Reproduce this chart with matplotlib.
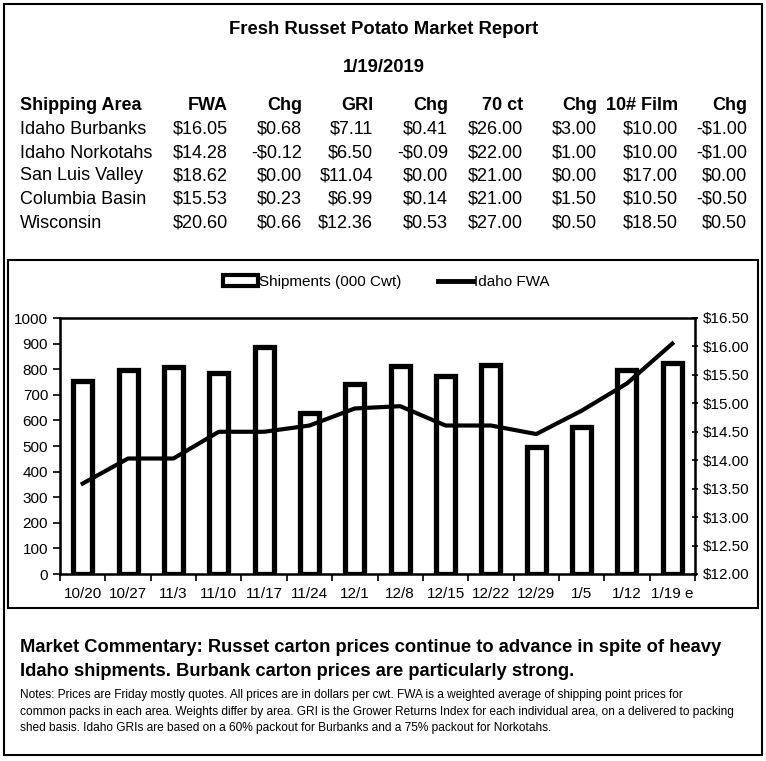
import matplotlib.pyplot as plt
from matplotlib.patches import Rectangle, Patch
from matplotlib.lines import Line2D
import numpy as np

plt.rcParams['font.family'] = ['Liberation Sans', 'DejaVu Sans']

# table data
areas = ['Idaho Burbanks', 'Idaho Norkotahs', 'San Luis Valley', 'Columbia Basin', 'Wisconsin']
fwa = [16.05, 14.28, 18.62, 15.53, 20.60]
fwa_chg = [0.68, -0.12, 0.00, 0.23, 0.66]
gri = [7.11, 6.50, 11.04, 6.99, 12.36]
gri_chg = [0.41, -0.09, 0.00, 0.14, 0.53]
ct70 = [26.00, 22.00, 21.00, 21.00, 27.00]
ct70_chg = [3.00, 1.00, 0.00, 1.50, 0.50]
film = [10.00, 10.00, 17.00, 10.50, 18.50]
film_chg = [-1.00, -1.00, 0.00, -0.50, 0.50]
headers = ['FWA', 'Chg', 'GRI', 'Chg', '70 ct', 'Chg', '10# Film', 'Chg']

# chart data
weeks = ['10/20', '10/27', '11/3', '11/10', '11/17', '11/24', '12/1', '12/8',
         '12/15', '12/22', '12/29', '1/5', '1/12', '1/19 e']
shipments = [755, 797, 807, 786, 886, 630, 742, 812, 775, 815, 497, 575, 797, 823]
idaho_fwa = [13.59, 14.03, 14.03, 14.50, 14.50, 14.61, 14.91, 14.95, 14.61, 14.61,
             14.46, 14.87, 15.35, 16.05]

W, H = 766, 761
fig = plt.figure(figsize=(W / 100, H / 100), dpi=100)


def fx(x):
    return x / W


def fy(y):
    return 1 - y / H


def money(v):
    if v < 0:
        return '-$%.2f' % abs(v)
    return '$%.2f' % v


# borders
fig.patches.append(Rectangle((fx(4), fy(755)), fx(758), 751 / H, transform=fig.transFigure,
                             fill=False, lw=1.5, ec='black'))
fig.patches.append(Rectangle((fx(8), fy(608)), fx(750), 348 / H, transform=fig.transFigure,
                             fill=False, lw=1.5, ec='black'))

fig.text(fx(384), fy(30), 'Fresh Russet Potato Market Report', ha='center', va='center',
         fontsize=13.3, fontweight='bold')
fig.text(fx(384), fy(67), '1/19/2019', ha='center', va='center', fontsize=13.3, fontweight='bold')

col_x = [228, 302, 373, 448, 523, 597, 678, 747]
row_y = [129, 153, 176, 199, 223]
fig.text(fx(20), fy(105), 'Shipping Area', ha='left', va='center', fontsize=13, fontweight='bold')
for cx, h in zip(col_x, headers):
    fig.text(fx(cx), fy(105), h, ha='right', va='center', fontsize=13, fontweight='bold')
cols = [fwa, fwa_chg, gri, gri_chg, ct70, ct70_chg, film, film_chg]
for i, area in enumerate(areas):
    fig.text(fx(20), fy(row_y[i]), area, ha='left', va='center', fontsize=13)
    for cx, col in zip(col_x, cols):
        fig.text(fx(cx), fy(row_y[i]), money(col[i]), ha='right', va='center', fontsize=13)

# chart
ax = fig.add_axes([fx(60), fy(574), (695 - 60) / W, (574 - 318) / H])
x = np.arange(len(weeks))
ax.bar(x, shipments, width=0.42, color='white', edgecolor='black', linewidth=3.8, zorder=2)
ax.set_ylim(0, 1000)
ax.set_xlim(-0.5, len(weeks) - 0.5)
ax.set_yticks(range(0, 1001, 100))
ax.set_xticks(x)
ax.set_xticklabels(weeks)
ax.set_xticks(np.arange(-0.5, len(weeks), 1), minor=True)
ax.tick_params(axis='x', which='major', length=0, pad=9, labelsize=11)
ax.tick_params(axis='x', which='minor', length=5, width=1.2, direction='out')
ax.tick_params(axis='y', length=5, width=1.2, labelsize=11)
for s in ax.spines.values():
    s.set_linewidth(1.8)

ax2 = ax.twinx()
ax2.plot(x, idaho_fwa, color='black', lw=3)
ax2.set_ylim(12, 16.5)
ax2.set_yticks(np.arange(12, 16.51, 0.5))
ax2.set_yticklabels(['$%.2f' % v for v in np.arange(12, 16.51, 0.5)])
ax2.tick_params(axis='y', length=5, width=1.2, labelsize=11, direction='inout')

handles = [Patch(facecolor='white', edgecolor='black', linewidth=3),
           Line2D([0], [0], color='black', lw=3.5)]
fig.legend(handles, ['Shipments (000 Cwt)', 'Idaho FWA'], loc='center',
           bbox_to_anchor=(fx(386), fy(282)), ncol=2, frameon=False, fontsize=11,
           handlelength=2.3, handletextpad=0.05, columnspacing=2.4)

fig.text(fx(20), fy(648), 'Market Commentary: Russet carton prices continue to advance in spite of heavy',
         ha='left', va='center', fontsize=13.2, fontweight='bold')
fig.text(fx(20), fy(671), 'Idaho shipments. Burbank carton prices are particularly strong.',
         ha='left', va='center', fontsize=13.2, fontweight='bold')
notes = ['Notes: Prices are Friday mostly quotes. All prices are in dollars per cwt. FWA is a weighted average of shipping point prices for',
         'common packs in each area. Weights differ by area. GRI is the Grower Returns Index for each individual area, on a delivered to packing',
         'shed basis. Idaho GRIs are based on a 60% packout for Burbanks and a 75% packout for Norkotahs.']
for i, n in enumerate(notes):
    fig.text(fx(20), fy(695 + 16.5 * i), n, ha='left', va='center', fontsize=8.6)

fig.savefig('out.png', dpi=100)
